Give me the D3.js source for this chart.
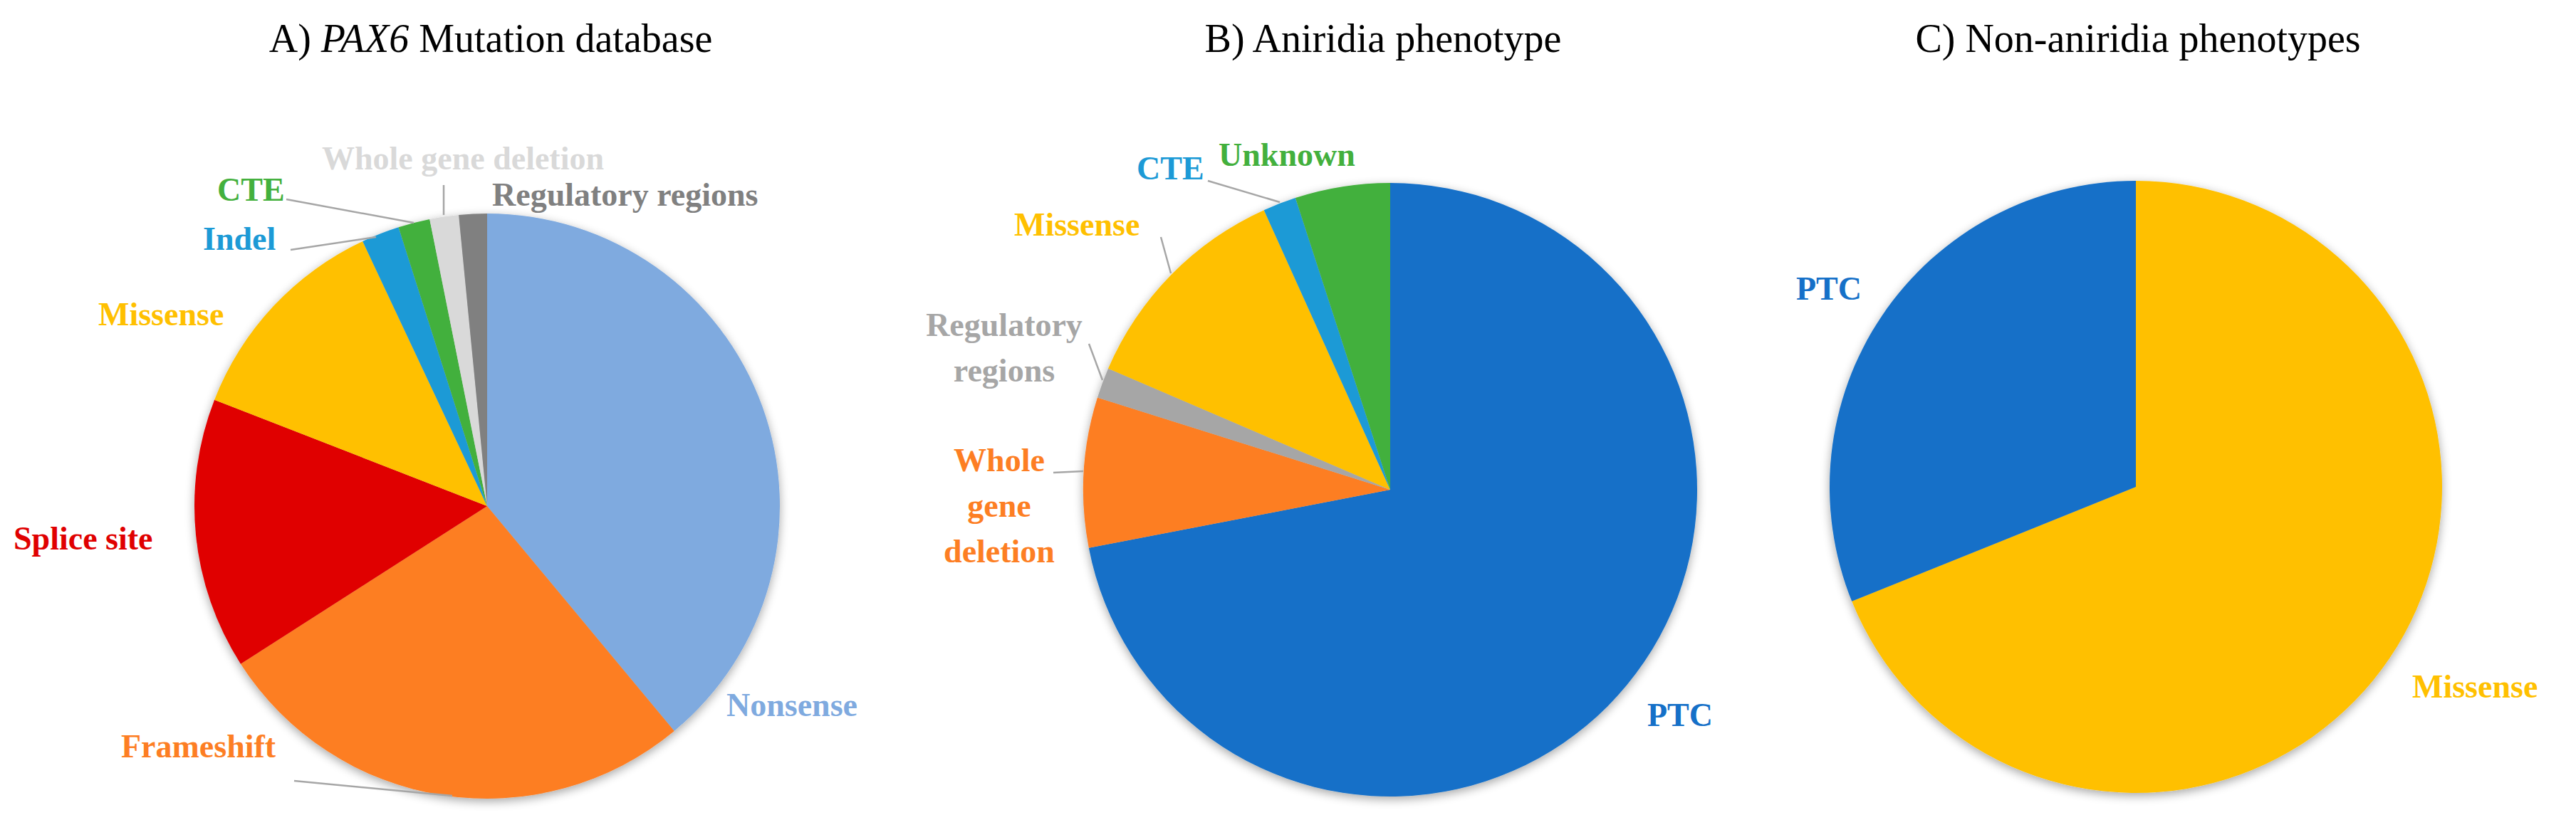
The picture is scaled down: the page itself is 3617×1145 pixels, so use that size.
<!DOCTYPE html>
<html><head><meta charset="utf-8">
<script src="https://cdn.jsdelivr.net/npm/d3@7/dist/d3.min.js"></script>
<style>body{margin:0;background:#fff}text{font-family:"Liberation Serif","Times New Roman",serif}</style>
</head><body><svg id="c" width="3617" height="1145"></svg>
<script>
const catsA = ["Nonsense","Frameshift","Splice site","Missense","Indel","CTE","Whole gene deletion","Regulatory regions"];
const valsA = [39,27,15,12.1,2.1,1.75,1.6,1.55];
const colsA = ["#7FAADF","#FD7E23","#E00000","#FFC000","#1C9AD6","#43B03D","#D9D9D9","#808080"];
const catsB = ["PTC","Whole gene deletion","Regulatory regions","Missense","CTE","Unknown"];
const valsB = [72,7.9,1.6,11.8,1.75,5];
const colsB = ["#1570C8","#FD7E23","#A6A6A6","#FFC000","#1C9AD6","#43B03D"];
const catsC = ["Missense","PTC"];
const valsC = [68.9,31.1];
const colsC = ["#FFC000","#1570C8"];

const svg = d3.select("#c");
const defs = svg.append("defs");
const f = defs.append("filter").attr("id","sh").attr("x","-10%").attr("y","-10%").attr("width","120%").attr("height","120%");
f.append("feGaussianBlur").attr("in","SourceAlpha").attr("stdDeviation",7);
f.append("feOffset").attr("dx",0).attr("dy",4).attr("result","b");
f.append("feComponentTransfer").append("feFuncA").attr("type","linear").attr("slope",0.35);
const m = f.append("feMerge"); m.append("feMergeNode"); m.append("feMergeNode").attr("in","SourceGraphic");

function pie(cx,cy,r,cats,vals,cols){
  const g = svg.append("g").attr("transform",`translate(${cx},${cy})`).attr("filter","url(#sh)");
  const arcs = d3.pie().sort(null).value(d=>d)(vals);
  const arc = d3.arc().innerRadius(0).outerRadius(r);
  g.selectAll("path").data(arcs).join("path").attr("d",arc).attr("fill",(d,i)=>cols[i]);
}
pie(684,711,411,catsA,valsA,colsA);
pie(1952,688,431,catsB,valsB,colsB);
pie(2999,684,430,catsC,valsC,colsC);

function title(x,parts){
  const t = svg.append("text").attr("x",x).attr("y",73).attr("text-anchor","middle").attr("font-size",56).attr("fill","#000");
  parts.forEach(p=>t.append("tspan").attr("font-style",p[1]?"italic":"normal").text(p[0]));
}
title(689,[["A) ",0],["PAX6",1],[" Mutation database",0]]);
title(1942,[["B) Aniridia phenotype",0]]);
title(3002,[["C) Non-aniridia phenotypes",0]]);

function lab(lines,x,y,col,anchor){
  const t = svg.append("text").attr("text-anchor",anchor||"start").attr("font-size",46).attr("font-weight","bold").attr("fill",col);
  lines.forEach((l,i)=>t.append("tspan").attr("x",x).attr("y",y+i*64).text(l));
}
function lead(pts){
  svg.append("path").attr("d",d3.line()(pts)).attr("fill","none").attr("stroke","#A6A6A6").attr("stroke-width",2.5);
}
// A
lab([catsA[6]],650,238,colsA[6],"middle");
lab([catsA[7]],691,289,colsA[7]);
lab([catsA[5]],305,282,colsA[5]);
lab([catsA[4]],285,351,colsA[4]);
lab([catsA[3]],138,457,colsA[3]);
lab([catsA[2]],19,772,colsA[2]);
lab([catsA[1]],170,1064,colsA[1]);
lab([catsA[0]],1020,1006,colsA[0]);
lead([[402,280],[581,313]]);
lead([[408,351],[528,333]]);
lead([[623,260],[623,302]]);
lead([[413,1097],[635,1118]]);
// B
lab([catsB[5]],1711,233,colsB[5]);
lab([catsB[4]],1596,252,colsB[4]);
lab([catsB[3]],1424,331,colsB[3]);
lab(["Regulatory","regions"],1410,472,colsB[2],"middle");
lab(["Whole","gene","deletion"],1403,662,colsB[1],"middle");
lab([catsB[0]],2313,1020,colsB[0]);
lead([[1696,254],[1797,284]]);
lead([[1630,333],[1644,384]]);
lead([[1529,483],[1548,534]]);
lead([[1479,664],[1521,662]]);
// C
lab([catsC[1]],2522,421,colsC[1]);
lab([catsC[0]],3387,980,colsC[0]);
</script></body></html>
